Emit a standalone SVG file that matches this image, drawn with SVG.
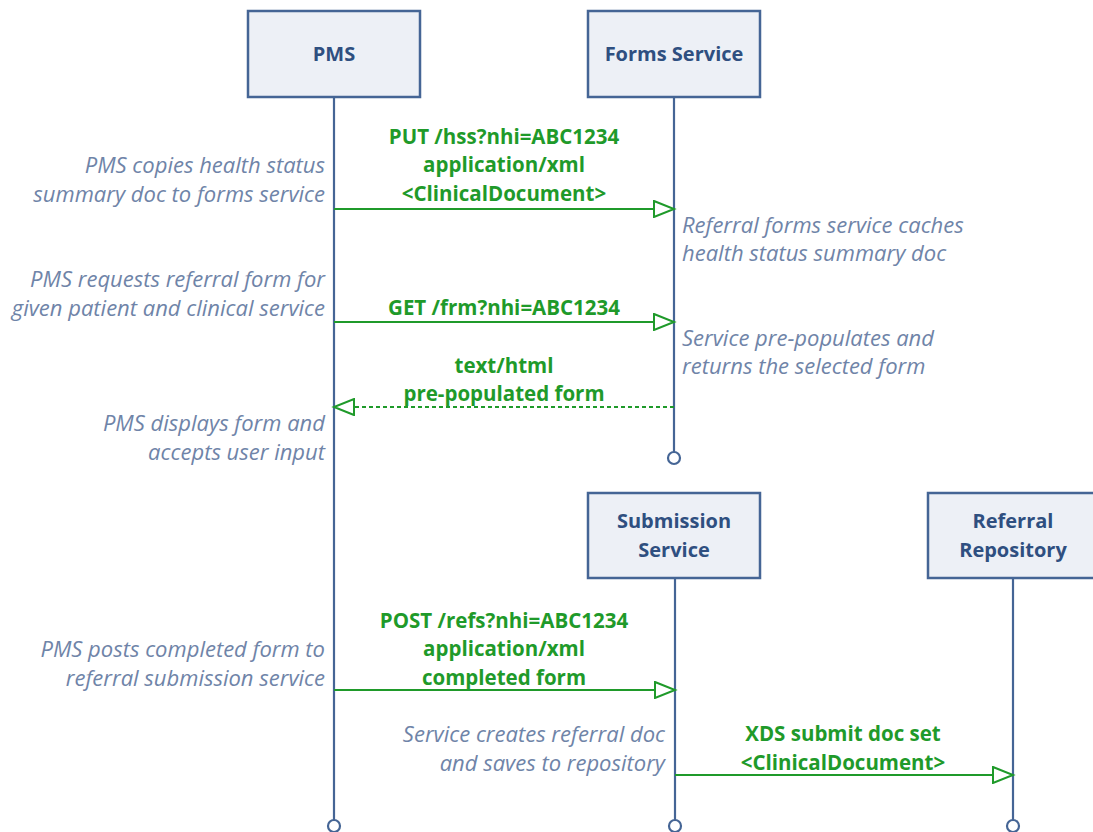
<svg xmlns="http://www.w3.org/2000/svg" width="1093" height="832" viewBox="0 0 1093 832">
<defs>
<style>
.box{fill:#edf0f6;stroke:#456595;stroke-width:2.5}
.life{stroke:#456595;stroke-width:2.2;fill:none}
.end{fill:#fff;stroke:#456595;stroke-width:2.2}
.title{font-family:"Open Sans","Liberation Sans",sans-serif;font-weight:bold;font-size:20px;fill:#2f4f80;text-anchor:middle}
.msg{font-family:"Open Sans","Liberation Sans",sans-serif;font-weight:bold;font-size:20.5px;fill:#1f9a2a;text-anchor:middle}
.note{font-family:"Open Sans","Liberation Sans",sans-serif;font-style:italic;font-size:22px;fill:#6f84a8}
.r{text-anchor:end}
.arrow{stroke:#1f9a2a;stroke-width:2.2;fill:none}
.dash{stroke-dasharray:4 3}
</style>
<marker id="tri" markerWidth="24" markerHeight="18" refX="21" refY="9" orient="auto" markerUnits="userSpaceOnUse">
<path d="M1,1 L21,9 L1,17 Z" fill="#fff" stroke="#1f9a2a" stroke-width="2"/>
</marker>
</defs>
<rect width="1093" height="832" fill="#fff"/>

<g id="lifelines">
<line class="life" x1="334" y1="97" x2="334" y2="820"/>
<line class="life" x1="674" y1="97" x2="674" y2="452"/>
<line class="life" x1="675" y1="578" x2="675" y2="820"/>
<line class="life" x1="1013" y1="578" x2="1013" y2="820"/>
<circle class="end" cx="334" cy="826" r="6"/>
<circle class="end" cx="674" cy="458" r="6"/>
<circle class="end" cx="675" cy="826" r="6"/>
<circle class="end" cx="1013" cy="826" r="6"/>
</g>

<g id="pms">
<rect class="box" x="248" y="11" width="172" height="86"/>
<text class="title" x="334" y="61">PMS</text>
</g>
<g id="forms-service">
<rect class="box" x="588" y="11" width="172" height="86"/>
<text class="title" x="674" y="61">Forms Service</text>
</g>
<g id="submission-service">
<rect class="box" x="588" y="493" width="172" height="85"/>
<text class="title" x="674" y="528">Submission</text>
<text class="title" x="674" y="557">Service</text>
</g>
<g id="referral-repository">
<rect class="box" x="928" y="493" width="172" height="85"/>
<text class="title" x="1013" y="528">Referral</text>
<text class="title" x="1013" y="557">Repository</text>
</g>

<g id="connectors">
<line class="arrow" x1="334" y1="209" x2="674" y2="209" marker-end="url(#tri)"/>
<line class="arrow" x1="334" y1="322" x2="674" y2="322" marker-end="url(#tri)"/>
<line class="arrow dash" x1="674" y1="407" x2="334" y2="407" marker-end="url(#tri)"/>
<line class="arrow" x1="334" y1="690" x2="675" y2="690" marker-end="url(#tri)"/>
<line class="arrow" x1="675" y1="775" x2="1013" y2="775" marker-end="url(#tri)"/>
</g>

<g id="labels">
<text class="msg" x="504" y="144">PUT /hss?nhi=ABC1234</text>
<text class="msg" x="504" y="172">application/xml</text>
<text class="msg" x="504" y="201">&lt;ClinicalDocument&gt;</text>
<text class="msg" x="504" y="315">GET /frm?nhi=ABC1234</text>
<text class="msg" x="504" y="373">text/html</text>
<text class="msg" x="504" y="401">pre-populated form</text>
<text class="msg" x="504" y="628">POST /refs?nhi=ABC1234</text>
<text class="msg" x="504" y="656">application/xml</text>
<text class="msg" x="504" y="685">completed form</text>
<text class="msg" x="843" y="741">XDS submit doc set</text>
<text class="msg" x="843" y="770">&lt;ClinicalDocument&gt;</text>

<text class="note r" x="325" y="173">PMS copies health status</text>
<text class="note r" x="325" y="202">summary doc to forms service</text>
<text class="note" x="682" y="233">Referral forms service caches</text>
<text class="note" x="682" y="261">health status summary doc</text>
<text class="note r" x="325" y="287">PMS requests referral form for</text>
<text class="note r" x="325" y="316">given patient and clinical service</text>
<text class="note" x="682" y="346">Service pre-populates and</text>
<text class="note" x="682" y="374">returns the selected form</text>
<text class="note r" x="325" y="431">PMS displays form and</text>
<text class="note r" x="325" y="460">accepts user input</text>
<text class="note r" x="325" y="657">PMS posts completed form to</text>
<text class="note r" x="325" y="686">referral submission service</text>
<text class="note r" x="665" y="742">Service creates referral doc</text>
<text class="note r" x="665" y="771">and saves to repository</text>
</g>
</svg>
